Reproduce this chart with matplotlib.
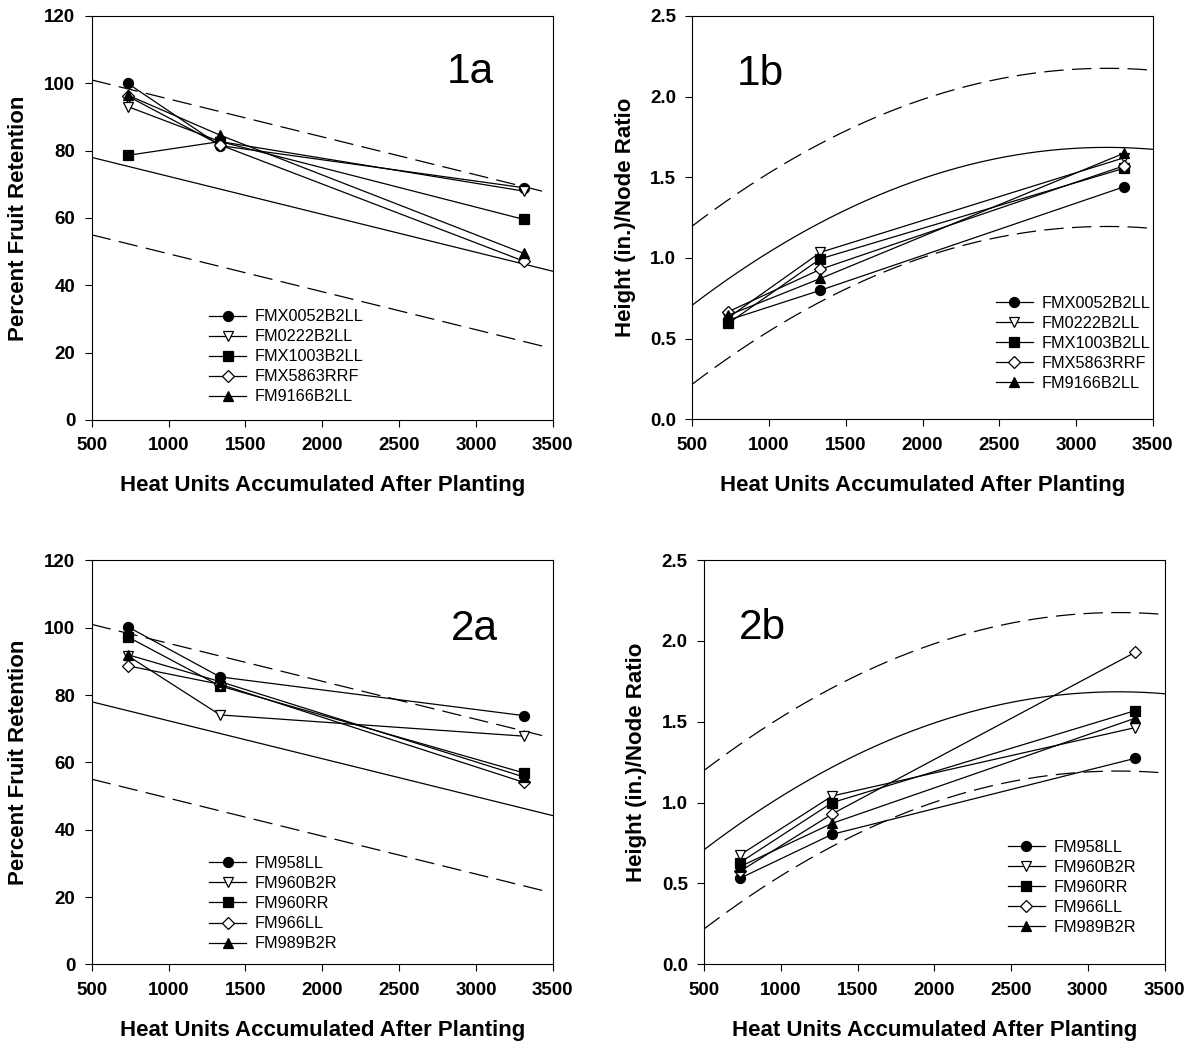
import numpy as np
import matplotlib
matplotlib.use("Agg")
import matplotlib.pyplot as plt

plt.rcParams['font.family'] = ['Liberation Sans', 'DejaVu Sans']
plt.rcParams['lines.scale_dashes'] = False

# heat units where samples were taken
heat_units = [734, 1335, 3310]

# -------- fruit retention (%) --------
fr_names_1 = ["FMX0052B2LL", "FM0222B2LL", "FMX1003B2LL", "FMX5863RRF", "FM9166B2LL"]
fr_values_1 = [
    [100.0, 81.5, 69.0],
    [93.1, 82.7, 68.0],
    [78.6, 82.7, 59.6],
    [96.2, 81.7, 47.2],
    [96.5, 84.6, 49.5],
]

fr_names_2 = ["FM958LL", "FM960B2R", "FM960RR", "FM966LL", "FM989B2R"]
fr_values_2 = [
    [100.3, 85.4, 73.9],
    [91.7, 74.1, 67.8],
    [97.3, 82.7, 56.9],
    [88.7, 83.2, 54.1],
    [92.0, 84.0, 55.7],
]

# -------- height / node ratio --------
hn_values_1 = [
    [0.615, 0.80, 1.44],
    [0.63, 1.035, 1.62],
    [0.595, 0.995, 1.555],
    [0.667, 0.93, 1.57],
    [0.645, 0.873, 1.648],
]

hn_values_2 = [
    [0.532, 0.804, 1.274],
    [0.676, 1.041, 1.464],
    [0.629, 1.0, 1.569],
    [0.575, 0.93, 1.93],
    [0.604, 0.872, 1.522],
]

# reference fits (baseline) and their bands
fr_fit = [78.0, -0.01127]          # value at 500 HU, slope per HU
fr_band = 23.0
hn_fit = [0.313, 8.576e-4, -1.34e-7]   # quadratic coefficients
hn_band = 0.49

markers = ['o', 'v', 's', 'D', '^']
filled = [True, False, True, False, True]


def draw_series(ax, names, values):
    for name, vals, m, f in zip(names, values, markers, filled):
        ax.plot(heat_units, vals, color='black', lw=0.9, marker=m,
                markersize=6 if m == 'D' else 7.2,
                markerfacecolor='black' if f else 'white',
                markeredgecolor='black', markeredgewidth=0.9, label=name)


def style_axes(ax, ylim, yticks, ylabel, ylabel_x):
    ax.set_xlim(500, 3500)
    ax.set_ylim(*ylim)
    ax.set_xticks([500, 1000, 1500, 2000, 2500, 3000, 3500])
    ax.set_yticks(yticks)
    ax.tick_params(direction='out', length=5, width=0.8, top=False, right=False,
                   labelsize=13.5)
    ax.tick_params(axis='x', pad=7.5)
    ax.tick_params(axis='y', pad=6.7)
    for s in ax.spines.values():
        s.set_linewidth(0.8)
    ax.set_xlabel("Heat Units Accumulated After Planting", fontsize=16, fontweight='bold')
    ax.set_ylabel(ylabel, fontsize=16, fontweight='bold')
    ax.xaxis.set_label_coords(0.5, -0.163)
    ax.yaxis.set_label_coords(ylabel_x, 0.5)
    ax.xaxis.label.set_va('center')
    ax.yaxis.label.set_va('center')


def bold_ticks(ax):
    for lab in ax.get_xticklabels() + ax.get_yticklabels():
        lab.set_fontweight('bold')


def fr_panel(ax, names, values, tag, tag_xy, leg_y):
    x = np.linspace(500, 3500, 100)
    xd = np.linspace(500, 3470, 100)
    ax.plot(x, fr_fit[0] + fr_fit[1] * (x - 500), color='black', lw=0.9)
    for sign in (1, -1):
        ax.plot(xd, fr_fit[0] + fr_fit[1] * (xd - 500) + sign * fr_band,
                color='black', lw=0.9, dashes=(14, 6))
    draw_series(ax, names, values)
    ax.text(tag_xy[0], tag_xy[1], tag, fontsize=30.5, ha='left', va='baseline')
    style_axes(ax, (0, 120), [0, 20, 40, 60, 80, 100, 120],
               "Percent Fruit Retention", -0.158)
    bold_ticks(ax)
    ax.legend(loc='upper left', bbox_to_anchor=(0.255, leg_y), frameon=False,
              fontsize=11.7, borderpad=0, borderaxespad=0, handlelength=2.25,
              handletextpad=0.55, labelspacing=0.31)


def hn_panel(ax, names, values, tag, tag_xy, leg_y):
    x = np.linspace(500, 3500, 200)
    xd = np.linspace(500, 3470, 200)
    fit = hn_fit[0] + hn_fit[1] * x + hn_fit[2] * x ** 2
    fitd = hn_fit[0] + hn_fit[1] * xd + hn_fit[2] * xd ** 2
    ax.plot(x, fit, color='black', lw=0.9)
    for sign in (1, -1):
        ax.plot(xd, fitd + sign * hn_band, color='black', lw=0.9, dashes=(14, 6))
    draw_series(ax, names, values)
    ax.text(tag_xy[0], tag_xy[1], tag, fontsize=30.5, ha='left', va='baseline')
    style_axes(ax, (0, 2.5), [0.0, 0.5, 1.0, 1.5, 2.0, 2.5],
               "Height (in.)/Node Ratio", -0.146)
    ax.yaxis.set_major_formatter(matplotlib.ticker.FormatStrFormatter('%.1f'))
    bold_ticks(ax)
    ax.legend(loc='upper left', bbox_to_anchor=(0.66, leg_y), frameon=False,
              fontsize=11.7, borderpad=0, borderaxespad=0, handlelength=2.25,
              handletextpad=0.55, labelspacing=0.31)


fig = plt.figure(figsize=(11.9, 10.45), dpi=100)

ax1a = fig.add_axes([0.0771, 0.5981, 0.3874, 0.3866])
ax1b = fig.add_axes([0.5818, 0.5987, 0.3869, 0.3861])
ax2a = fig.add_axes([0.0771, 0.0772, 0.3874, 0.3865])
ax2b = fig.add_axes([0.5916, 0.0772, 0.3870, 0.3869])

fr_panel(ax1a, fr_names_1, fr_values_1, "1a", (2810, 100), 0.274)
hn_panel(ax1b, fr_names_1, hn_values_1, "1b", (789, 2.07), 0.306)
fr_panel(ax2a, fr_names_2, fr_values_2, "2a", (2837, 96.5), 0.268)
hn_panel(ax2b, fr_names_2, hn_values_2, "2b", (724, 2.01), 0.308)

fig.savefig("out.png", dpi=100)
